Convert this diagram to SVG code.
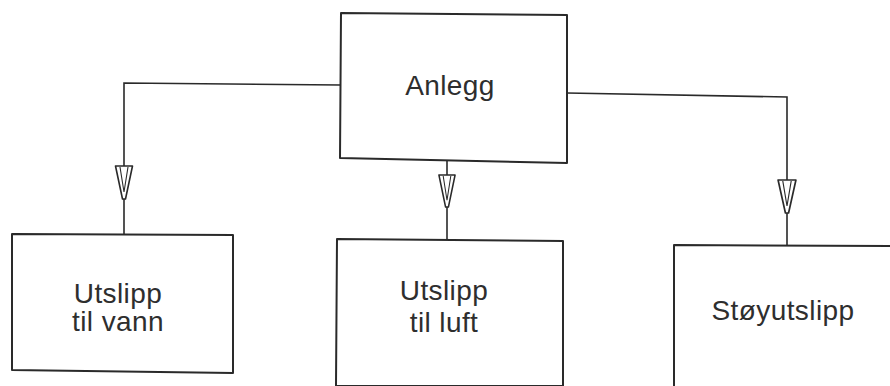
<svg xmlns="http://www.w3.org/2000/svg" width="890" height="386" viewBox="0 0 890 386">
  <style>
    .box { fill: #ffffff; stroke: #2a2a2a; stroke-width: 2; stroke-linejoin: round; }
    .wire { fill: none; stroke: #2a2a2a; stroke-width: 1.6; }
    .lbl { font-family: "Liberation Sans", Arial, Helvetica, sans-serif; font-size: 28px; fill: #2e2e2e; text-anchor: middle; letter-spacing: 0.4px; }
    .ah { fill: #ffffff; stroke: #2a2a2a; stroke-width: 1.6; stroke-linejoin: round; }
    .ahi { fill: none; stroke: #2a2a2a; stroke-width: 1.1; }
  </style>
  <defs>
    <g id="arrow">
      <path class="ah" d="M-8.5,0 L8.5,0 L1.5,33 L-1.5,33 Z"/>
      <path class="ahi" d="M-4,1 L0,26 L4,1"/>
    </g>
  </defs>
  <rect width="890" height="386" fill="#ffffff"/>

  <g id="connectors">
    <path class="wire" d="M341,85 L124,83 L124,234"/>
    <path class="wire" d="M447,161 L447,239"/>
    <path class="wire" d="M567,93 L787,97 L787,245"/>
    <use href="#arrow" transform="translate(124,166)"/>
    <use href="#arrow" transform="translate(447,175) scale(0.95,0.97)"/>
    <use href="#arrow" transform="translate(787,180) scale(1.05,1)"/>
  </g>

  <g id="anlegg">
    <path class="box" d="M341,13 L567,15 L567,163 L340,158 Z"/>
    <text class="lbl" x="450" y="95">Anlegg</text>
  </g>

  <g id="utslipp-vann">
    <path class="box" d="M12,234 L233,235 L233,373 L12,370 Z"/>
    <text class="lbl" x="118" y="303">Utslipp</text>
    <text class="lbl" x="118" y="331">til vann</text>
  </g>

  <g id="utslipp-luft">
    <path class="box" d="M337,239 L563,241 L563,386 L336,386 Z"/>
    <text class="lbl" x="444" y="300">Utslipp</text>
    <text class="lbl" x="444" y="332">til luft</text>
  </g>

  <g id="stoyutslipp">
    <path class="box" d="M674,245 L895,246 L895,395 L674,395 Z"/>
    <text class="lbl" x="783" y="320">Støyutslipp</text>
  </g>
</svg>
